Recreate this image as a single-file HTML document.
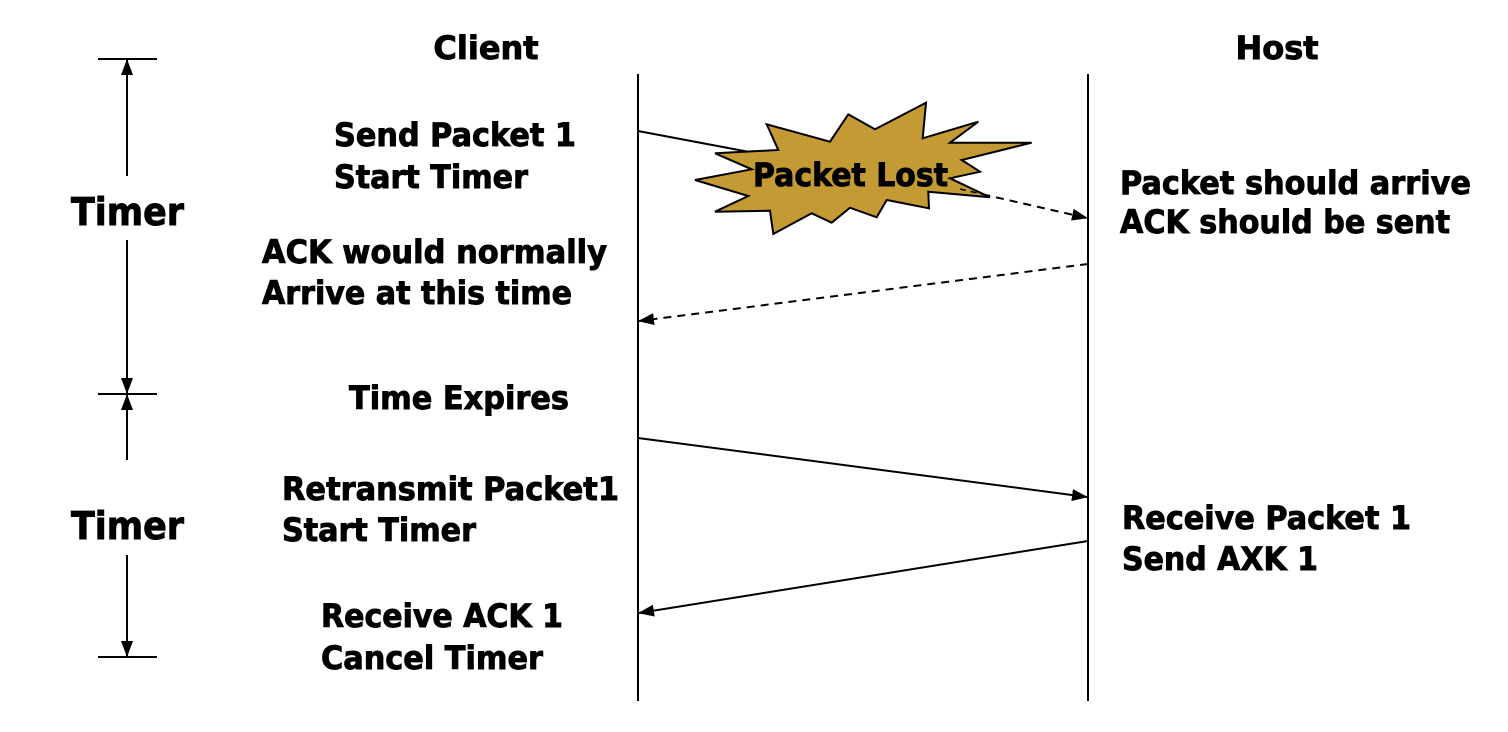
<!DOCTYPE html>
<html><head><meta charset="utf-8"><style>
html,body{margin:0;padding:0;background:#fff;}
svg{display:block;}
text{font-family:"DejaVu Sans","Liberation Sans",sans-serif;font-weight:bold;fill:#000;stroke:#000;stroke-width:0.9;}
</style></head><body>
<svg width="1508" height="732" viewBox="0 0 1508 732" xmlns="http://www.w3.org/2000/svg">
<defs>
<marker id="ah" markerWidth="16" markerHeight="12" refX="15" refY="6" orient="auto" markerUnits="userSpaceOnUse">
<path d="M0,0 L16,6 L0,12 z" fill="#000"/>
</marker>
</defs>
<line x1="638" y1="74" x2="638" y2="701" stroke="#000" stroke-width="2"/>
<line x1="1088" y1="74" x2="1088" y2="701" stroke="#000" stroke-width="2"/>
<text x="486" y="59" font-size="32" text-anchor="middle">Client</text>
<text x="1277" y="59" font-size="32" text-anchor="middle">Host</text>
<g stroke="#000" stroke-width="2">
<line x1="98" y1="59" x2="157" y2="59"/>
<line x1="98" y1="394" x2="157" y2="394"/>
<line x1="98" y1="657" x2="157" y2="657"/>
<line x1="127" y1="176" x2="127" y2="60" marker-end="url(#ah)"/>
<line x1="127" y1="240" x2="127" y2="393" marker-end="url(#ah)"/>
<line x1="127" y1="460" x2="127" y2="395" marker-end="url(#ah)"/>
<line x1="127" y1="555" x2="127" y2="656" marker-end="url(#ah)"/>
</g>
<text x="71" y="225" font-size="38" textLength="113" lengthAdjust="spacingAndGlyphs">Timer</text>
<text x="71" y="539" font-size="38" textLength="113" lengthAdjust="spacingAndGlyphs">Timer</text>
<g stroke="#000" stroke-width="2" fill="none">
<line x1="638" y1="131" x2="760" y2="154"/>
<line x1="955" y1="188" x2="1087" y2="218" stroke-dasharray="8,6" marker-end="url(#ah)"/>
<line x1="1088" y1="264" x2="639" y2="321" stroke-dasharray="8,6" marker-end="url(#ah)"/>
<line x1="638" y1="438" x2="1087" y2="497" marker-end="url(#ah)"/>
<line x1="1088" y1="541" x2="639" y2="613" marker-end="url(#ah)"/>
</g>
<polygon fill="#c49a35" stroke="#000" stroke-width="2" points="766.7,124.3 830,141.7 848.3,114.3 875,129.3 926,102.7 922.7,138.3 978.3,121.7 950,142.7 1031.7,142.7 961.7,160 980,171.7 950,178.3 990,197.3 928.3,191.7 929,208.3 886.7,200 876.7,217.3 850,207.7 831.7,222.7 811.7,213.3 773.3,234 770,210.7 715,211.7 748.3,196 695,180 751.7,169.3 715,153.3 778.3,150"/>
<line x1="960" y1="189" x2="990" y2="196" stroke="#000" stroke-width="1.5" stroke-dasharray="6,5"/>
<text x="753" y="186" font-size="32" textLength="195" lengthAdjust="spacingAndGlyphs">Packet Lost</text>
<g font-size="32">
<text x="334" y="146" textLength="242" lengthAdjust="spacingAndGlyphs">Send Packet 1</text>
<text x="334" y="188" textLength="194" lengthAdjust="spacingAndGlyphs">Start Timer</text>
<text x="262" y="263" textLength="345" lengthAdjust="spacingAndGlyphs">ACK would normally</text>
<text x="262" y="304" textLength="310" lengthAdjust="spacingAndGlyphs">Arrive at this time</text>
<text x="349" y="409" textLength="220" lengthAdjust="spacingAndGlyphs">Time Expires</text>
<text x="282" y="500" textLength="337" lengthAdjust="spacingAndGlyphs">Retransmit Packet1</text>
<text x="282" y="541" textLength="194" lengthAdjust="spacingAndGlyphs">Start Timer</text>
<text x="321" y="627" textLength="242" lengthAdjust="spacingAndGlyphs">Receive ACK 1</text>
<text x="321" y="669" textLength="222" lengthAdjust="spacingAndGlyphs">Cancel Timer</text>
<text x="1120" y="194" textLength="351" lengthAdjust="spacingAndGlyphs">Packet should arrive</text>
<text x="1120" y="233" textLength="330" lengthAdjust="spacingAndGlyphs">ACK should be sent</text>
<text x="1122" y="529" textLength="289" lengthAdjust="spacingAndGlyphs">Receive Packet 1</text>
<text x="1122" y="570" textLength="196" lengthAdjust="spacingAndGlyphs">Send AXK 1</text>
</g>
</svg>
</body></html>
